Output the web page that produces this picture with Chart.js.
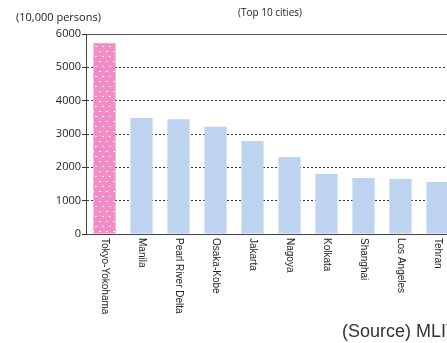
<!DOCTYPE html>
<html>
<head>
<meta charset="utf-8">
<script src="https://cdn.jsdelivr.net/npm/chart.js@4/dist/chart.umd.min.js"></script>
<style>
  html, body { margin: 0; padding: 0; background: #fff; overflow: hidden; width: 447px; height: 343px; }
  canvas { display: block; }
</style>
</head>
<body>
<canvas id="myChart" width="470" height="343"></canvas>
<script>
  // Chart data
  var cities = ['Tokyo-Yokohama', 'Manila', 'Pearl River Delta', 'Osaka-Kobe', 'Jakarta',
    'Nagoya', 'Kolkata', 'Shanghai', 'Los Angeles', 'Tehran'];
  var population = [5720, 3480, 3440, 3220, 2790, 2310, 1800, 1680, 1650, 1560];
  var yTicks = [0, 1000, 2000, 3000, 4000, 5000, 6000];
  var unitLabel = '(10,000 persons)';
  var subTitle = '(Top 10 cities)';
  var sourceText = '(Source) MLIT';

  // Dotted pink pattern for the first bar
  var pc = document.createElement('canvas');
  pc.width = 7; pc.height = 10;
  var p = pc.getContext('2d');
  p.fillStyle = '#f38bc5';
  p.fillRect(0, 0, 7, 10);
  p.fillStyle = '#ffffff';
  p.fillRect(1, 1, 2, 1);
  p.fillRect(4, 6, 2, 1);
  var ctx = document.getElementById('myChart').getContext('2d');
  var pinkDots = ctx.createPattern(pc, 'repeat');

  var colors = cities.map(function (c, i) { return i === 0 ? pinkDots : '#bdd3f0'; });

  // Extra text: rotated city names, titles and source
  var textPlugin = {
    id: 'texts',
    afterDraw: function (chart) {
      var c = chart.ctx;
      var xs = chart.scales.x;
      c.save();
      c.fillStyle = '#222';
      c.font = '10px "Liberation Sans", Arial, sans-serif';
      c.textAlign = 'left';
      c.textBaseline = 'middle';
      cities.forEach(function (name, i) {
        c.save();
        c.translate(xs.getPixelForValue(i), 238);
        c.rotate(Math.PI / 2);
        c.fillText(name, 0, 0);
        c.restore();
      });
      c.font = '11px "Open Sans", sans-serif';
      c.textBaseline = 'middle';
      c.fillText(unitLabel, 16, 18);
      c.font = '10px "Open Sans", sans-serif';
      c.textAlign = 'center';
      c.fillText(subTitle, 270, 13);
      c.font = '18px "Liberation Sans", Arial, sans-serif';
      c.textAlign = 'left';
      c.textBaseline = 'alphabetic';
      c.fillStyle = '#333';
      c.fillText(sourceText, 342, 337);
      c.restore();
    }
  };

  var chart = new Chart(ctx, {
    type: 'bar',
    data: {
      labels: cities,
      datasets: [{
        data: population,
        backgroundColor: colors,
        borderWidth: 0,
        barPercentage: 0.6,
        categoryPercentage: 1
      }]
    },
    options: {
      responsive: false,
      animation: false,
      layout: { padding: { left: 0, top: 34, right: 14, bottom: 0 } },
      plugins: { legend: { display: false }, tooltip: { enabled: false } },
      scales: {
        x: {
          ticks: { display: false },
          grid: { drawOnChartArea: false, drawTicks: false },
          border: { color: '#444', width: 1 },
          afterFit: function (s) { s.height = 109; }
        },
        y: {
          min: 0,
          max: 6000,
          afterBuildTicks: function (s) { s.ticks = yTicks.map(function (v) { return { value: v }; }); },
          ticks: {
            color: '#222',
            padding: 1,
            font: { family: '"Open Sans", sans-serif', size: 11 },
            callback: function (v) { return String(v); }
          },
          grid: {
            color: function (c) { return c.tick && c.tick.value === 6000 ? '#555' : '#333'; },
            lineWidth: 1,
            tickLength: 4,
            tickColor: '#333'
          },
          border: {
            color: '#444',
            width: 1,
            dash: function (c) { return c.tick && (c.tick.value === 6000 || c.tick.value === 0) ? [] : [2, 2]; }
          },
          afterFit: function (s) { s.width = 86; }
        }
      }
    },
    plugins: [textPlugin]
  });
</script>
</body>
</html>
